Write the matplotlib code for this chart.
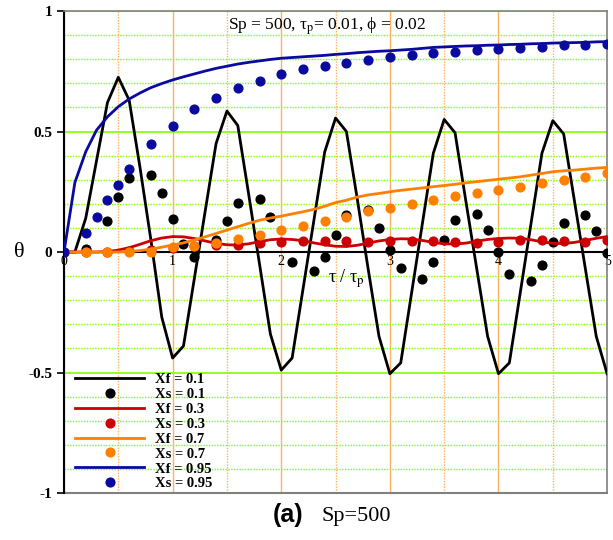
import numpy as np
import matplotlib
matplotlib.use('Agg')
import matplotlib.pyplot as plt

plt.rcParams['font.family'] = ['Liberation Serif', 'DejaVu Serif']
plt.rcParams['mathtext.fontset'] = 'stix'

# x grid of the fluid-phase curves (tau / tau_p)
tau = np.round(np.arange(0, 5.01, 0.1), 1)

xf_01 = [0.0, 0.0, 0.14, 0.38, 0.62, 0.725, 0.63, 0.35, 0.05, -0.27,
         -0.44, -0.39, -0.11, 0.17, 0.45, 0.585, 0.525, 0.24, -0.05, -0.34,
         -0.49, -0.44, -0.155, 0.13, 0.415, 0.556, 0.50, 0.22, -0.07, -0.35,
         -0.505, -0.46, -0.17, 0.12, 0.41, 0.55, 0.495, 0.21, -0.07, -0.35,
         -0.505, -0.46, -0.17, 0.12, 0.41, 0.545, 0.49, 0.21, -0.07, -0.35,
         -0.505]
xf_03 = [0.0, 0.0, 0.0, 0.0, 0.002, 0.008, 0.018, 0.032, 0.047, 0.058,
         0.064, 0.063, 0.056, 0.046, 0.036, 0.030, 0.029, 0.034, 0.043, 0.051,
         0.054, 0.052, 0.047, 0.038, 0.030, 0.024, 0.023, 0.028, 0.037, 0.046,
         0.052, 0.055, 0.054, 0.048, 0.040, 0.034, 0.033, 0.037, 0.045, 0.052,
         0.056, 0.058, 0.057, 0.051, 0.042, 0.036, 0.035, 0.040, 0.048, 0.057,
         0.064]
xf_07 = [0.0, 0.0, 0.0, 0.0, 0.0, 0.0, 0.002, 0.006, 0.012, 0.020,
         0.029, 0.038, 0.050, 0.063, 0.077, 0.091, 0.105, 0.119, 0.132, 0.141,
         0.149, 0.158, 0.167, 0.177, 0.190, 0.205, 0.215, 0.228, 0.237, 0.243,
         0.250, 0.256, 0.261, 0.266, 0.271, 0.276, 0.281, 0.287, 0.292, 0.297,
         0.302, 0.307, 0.312, 0.319, 0.326, 0.333, 0.337, 0.340, 0.344, 0.348,
         0.351]
xf_095 = [0.0, 0.288, 0.416, 0.506, 0.561, 0.603, 0.635, 0.660, 0.682, 0.699,
          0.714, 0.727, 0.739, 0.751, 0.762, 0.771, 0.780, 0.787, 0.793, 0.799,
          0.804, 0.807, 0.810, 0.813, 0.816, 0.820, 0.823, 0.827, 0.830, 0.833,
          0.835, 0.838, 0.841, 0.845, 0.849, 0.851, 0.853, 0.855, 0.856, 0.858,
          0.859, 0.861, 0.862, 0.864, 0.865, 0.867, 0.868, 0.869, 0.870, 0.872,
          0.873]

# solid-phase points
xs_01_t = [0.2, 0.4, 0.5, 0.6, 0.8, 0.9, 1.0, 1.1, 1.2, 1.4, 1.5, 1.6, 1.8, 1.9,
           2.1, 2.3, 2.4, 2.5, 2.6, 2.8, 2.9, 3.0, 3.1, 3.3, 3.4, 3.5, 3.6, 3.8,
           3.9, 4.0, 4.1, 4.3, 4.4, 4.5, 4.6, 4.8, 4.9, 5.0]
xs_01 = [0.012, 0.13, 0.227, 0.308, 0.318, 0.243, 0.136, 0.033, -0.02, 0.05,
         0.129, 0.205, 0.22, 0.147, -0.042, -0.078, -0.02, 0.07, 0.153, 0.175,
         0.10, 0.01, -0.068, -0.11, -0.04, 0.05, 0.133, 0.158, 0.09, 0.0,
         -0.09, -0.12, -0.054, 0.043, 0.122, 0.154, 0.088, -0.005]

xs_t = np.round(np.arange(0, 5.01, 0.2), 1)
xs_03 = [0.0, 0.0, 0.0, 0.003, 0.01, 0.018, 0.024, 0.028, 0.031, 0.036,
         0.043, 0.047, 0.046, 0.044, 0.040, 0.044, 0.046, 0.045, 0.040, 0.036,
         0.043, 0.050, 0.050, 0.047, 0.043, 0.050]
xs_07 = [0.0, 0.0, 0.0, 0.0, 0.002, 0.02, 0.025, 0.036, 0.053, 0.069,
         0.091, 0.108, 0.13, 0.147, 0.17, 0.184, 0.20, 0.216, 0.233, 0.246,
         0.257, 0.271, 0.285, 0.30, 0.312, 0.326]

xs_095_t = [0.0, 0.2, 0.3, 0.4, 0.5, 0.6, 0.8, 1.0, 1.2, 1.4, 1.6, 1.8, 2.0, 2.2,
            2.4, 2.6, 2.8, 3.0, 3.2, 3.4, 3.6, 3.8, 4.0, 4.2, 4.4, 4.6, 4.8, 5.0]
xs_095 = [0.0, 0.078, 0.147, 0.215, 0.28, 0.343, 0.447, 0.523, 0.592, 0.638,
          0.679, 0.711, 0.739, 0.758, 0.772, 0.786, 0.797, 0.808, 0.817, 0.824,
          0.831, 0.838, 0.841, 0.848, 0.852, 0.859, 0.859, 0.862]

c_black = 'black'
c_red = '#cc0000'
c_orange = '#ff8000'
c_blue = '#0a0aa0'

fig = plt.figure(figsize=(6.13, 5.4), dpi=100)
ax = fig.add_axes([0.1044, 0.087, 0.886, 0.8926])

ax.set_xlim(0, 5)
ax.set_ylim(-1, 1)

# grid
ax.set_xticks([0, 1, 2, 3, 4, 5])
ax.set_xticks(np.arange(0.5, 5, 1.0), minor=True)
ax.set_yticks([-1, -0.5, 0, 0.5, 1])
ax.set_yticks([v for v in np.round(np.arange(-0.9, 0.95, 0.1), 1) if abs(v) not in (0.0, 0.5)], minor=True)
ax.grid(axis='x', which='major', color='#ffb060', lw=1.0, ls='-')
ax.grid(axis='x', which='minor', color='#ffb060', lw=1.0, ls=(0, (1, 1)))
ax.grid(axis='y', which='major', color='#80ff00', lw=1.2, ls='-')
ax.grid(axis='y', which='minor', color='#80ff00', lw=1.0, ls=(0, (1, 1)))
ax.set_axisbelow(True)

ms = 6.3
ax.plot(tau, xf_01, color=c_black, lw=2, label='Xf = 0.1', zorder=3)
ax.plot(xs_01_t, xs_01, 'o', color=c_black, ms=ms, label='Xs = 0.1', zorder=3)
ax.plot(tau, xf_03, color=c_red, lw=2, label='Xf = 0.3', zorder=3)
ax.plot(xs_t, xs_03, 'o', color=c_red, ms=ms, label='Xs = 0.3', zorder=3)
ax.plot(tau, xf_07, color=c_orange, lw=2, label='Xf = 0.7', zorder=3)
ax.plot(xs_t, xs_07, 'o', color=c_orange, ms=ms, label='Xs = 0.7', zorder=3)
ax.plot(tau, xf_095, color=c_blue, lw=2, label='Xf = 0.95', zorder=3)
ax.plot(xs_095_t, xs_095, 'o', color=c_blue, ms=ms, label='Xs = 0.95', zorder=3)

# axes frame: x axis sits at theta = 0
ax.spines['bottom'].set_position(('data', 0))
ax.spines['bottom'].set_color('black')
ax.spines['bottom'].set_linewidth(1.5)
ax.spines['bottom'].set_zorder(2.5)
ax.spines['left'].set_linewidth(1.5)
for s in ['top', 'right']:
    ax.spines[s].set_color('#808080')
    ax.spines[s].set_linewidth(1.2)
ax.axhline(-1, color='#808080', lw=1.5, clip_on=False)

ax.tick_params(axis='x', which='both', length=0, pad=2, labelsize=10)
ax.tick_params(axis='y', which='major', length=5, width=1.2, labelsize=11)
ax.tick_params(axis='y', which='minor', length=0)
ax.set_xticklabels(['0', '1', '2', '3', '4', '5'])
ax.set_yticklabels(['-1', '-0.5', '0', '0.5', '1'], fontweight='bold')

ax.text(-0.083, 0.5, 'θ', transform=ax.transAxes, fontsize=16,
        ha='center', va='center')
ax.text(2.6, -0.11, 'τ / τ$_\\mathrm{p}$', fontsize=13, ha='center', va='center')
ax.text(2.42, 0.935, 'Sp = 500, τ$_\\mathrm{p}$= 0.01, ϕ = 0.02', fontsize=12.5,
        ha='center', va='center')

leg = ax.legend(loc='upper left', bbox_to_anchor=(0.01, 0.262), frameon=False,
                handlelength=4.7, handletextpad=0.8, labelspacing=0.12,
                borderaxespad=0, prop={'family': 'Liberation Serif', 'weight': 'bold', 'size': 10.5})

fig.text(0.445, 0.046, '(a)', fontsize=18, fontweight='bold', family='Liberation Sans',
         ha='left', va='center')
fig.text(0.525, 0.044, 'Sp=500', fontsize=16, family='Liberation Serif',
         ha='left', va='center')

fig.savefig('out.png', dpi=100)
